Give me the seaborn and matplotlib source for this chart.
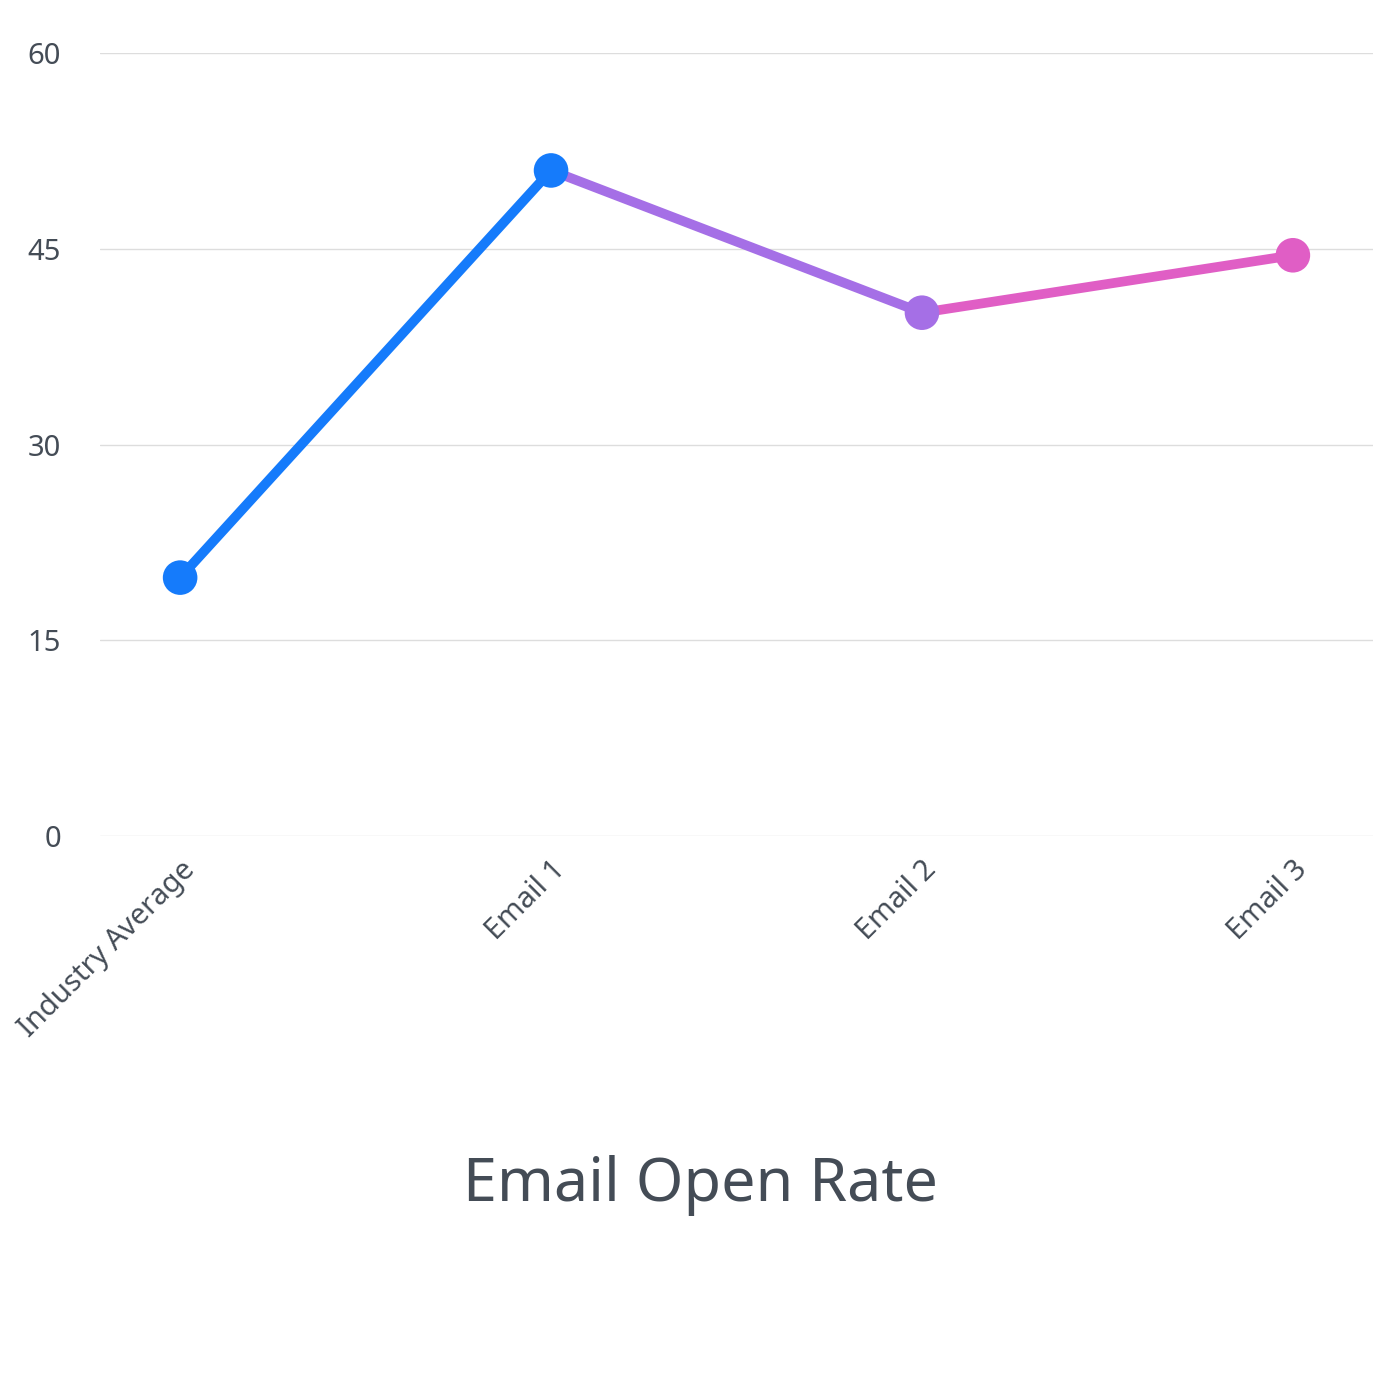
import matplotlib
matplotlib.use("Agg")
import matplotlib.pyplot as plt
import seaborn as sns
import pandas as pd

# chart data
categories = ["Industry Average", "Email 1", "Email 2", "Email 3"]
open_rate = [19.8, 51.0, 40.1, 44.5]
point_colors = ["#157BFB", "#157BFB", "#A56FE6", "#E05EC5"]
segment_colors = ["#157BFB", "#A56FE6", "#E05EC5"]
y_ticks = [0, 15, 30, 45, 60]

sns.set_style("white")
plt.rcParams['font.family'] = ['Noto Sans', 'DejaVu Sans']

fig = plt.figure(figsize=(14, 14), dpi=100)
ax = fig.add_axes([100 / 1400, 1 - 836 / 1400, 1273 / 1400, 783 / 1400])

pos = list(range(len(categories)))
for i, col in enumerate(segment_colors):
    seg = pd.DataFrame({"x": pos[i:i + 2], "y": open_rate[i:i + 2]})
    sns.lineplot(data=seg, x="x", y="y", color=col, linewidth=7, ax=ax,
                 solid_capstyle="butt", zorder=2)

pts = pd.DataFrame({"x": pos, "y": open_rate, "c": categories})
sns.scatterplot(data=pts, x="x", y="y", hue="c", palette=point_colors,
                s=620, edgecolor="none", legend=False, ax=ax, zorder=3)

ax.set_xlim(-0.216, 3.216)
ax.set_ylim(0, 60)
ax.set_yticks(y_ticks)
ax.set_xticks(pos)
ax.set_xticklabels(categories, rotation=45, ha="right", rotation_mode="anchor")
ax.tick_params(axis="both", length=0, labelsize=21, colors="#444c56")
ax.tick_params(axis="x", pad=14)
ax.tick_params(axis="y", pad=28)
ax.grid(axis="y", color="#dddddd", linewidth=1)
ax.set_axisbelow(True)
for s in ax.spines.values():
    s.set_visible(False)
ax.set_xlabel("")
ax.set_ylabel("")
for lbl in ax.get_xticklabels():
    lbl.set_x(lbl.get_position()[0])

fig.text(0.5, 1 - 1185 / 1400, "Email Open Rate", ha="center", va="center",
         fontsize=44, color="#444c56")

fig.savefig("out.png", dpi=100, facecolor="white")
